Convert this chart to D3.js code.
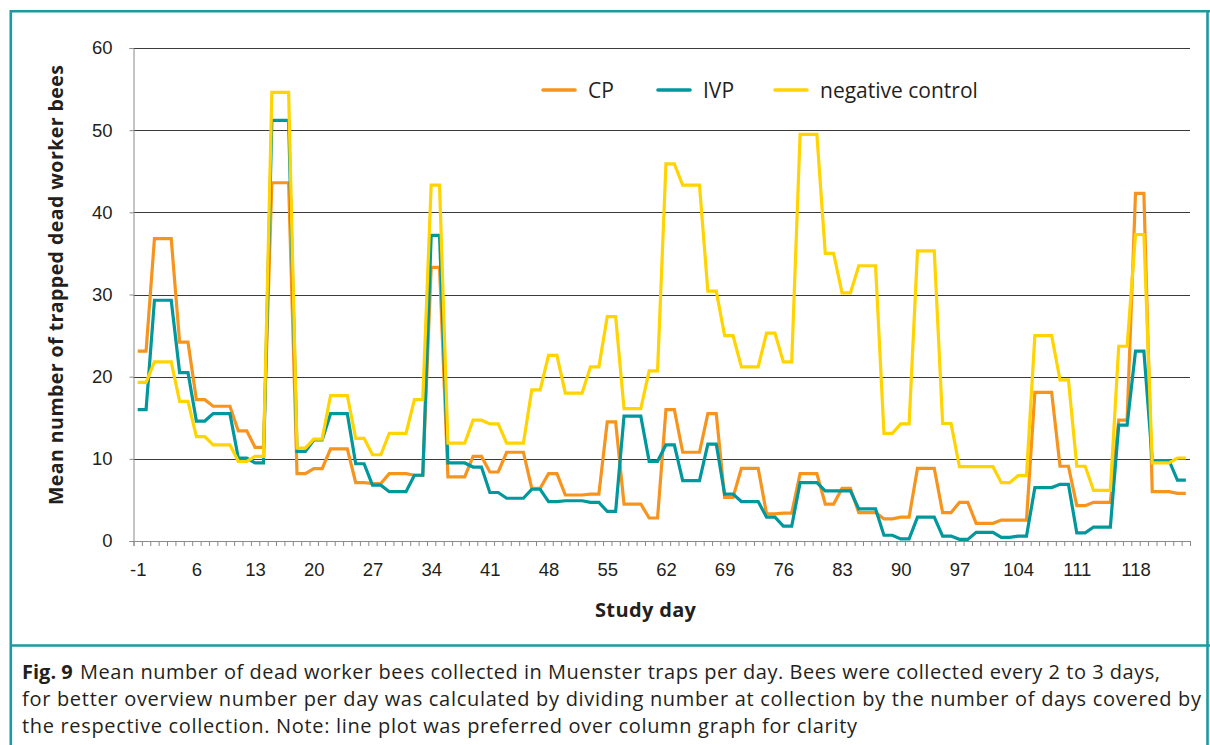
<!DOCTYPE html>
<html>
<head>
    <meta charset="utf-8" />
    <title>Fig. 9 dead worker bees</title>
    <script src="https://d3js.org/d3.v7.min.js"></script>
    <style>
    body { margin: 0; background: #fff; }
    svg { display: block; font-family: "Open Sans", "Noto Sans", sans-serif; }
    .tick text { fill: #231f20; }
    </style>
</head>
<body>
    <div id="chart"></div>
    <script>
        // study days run from -1 to 124, one point per day
        var firstDay = -1, lastDay = 124;
        var xTickDays = [-1, 6, 13, 20, 27, 34, 41, 48, 55, 62, 69, 76, 83, 90, 97, 104, 111, 118];
        var yTicks = [0, 10, 20, 30, 40, 50, 60];
        var seriesNames = ["CP", "IVP", "negative control"];

        // mean dead bees per day (collection value spread over the days it covers)
        var cp = [23.1, 23.1,
            36.8, 36.8, 36.8, 24.2, 24.2, 17.2, 17.2,
            16.4, 16.4, 16.4, 13.4, 13.4, 11.4, 11.4,
            43.6, 43.6, 43.6, 8.2, 8.2, 8.8, 8.8,
            11.2, 11.2, 11.2, 7.1, 7.1, 7.0, 7.0,
            8.2, 8.2, 8.2, 8.0, 8.0, 33.3, 33.3,
            7.8, 7.8, 7.8, 10.3, 10.3, 8.4, 8.4,
            10.8, 10.8, 10.8, 6.4, 6.4, 8.2, 8.2,
            5.6, 5.6, 5.6, 5.7, 5.7, 14.5, 14.5,
            4.5, 4.5, 4.5, 2.8, 2.8, 16.0, 16.0,
            10.8, 10.8, 10.8, 15.5, 15.5, 5.3, 5.3,
            8.85, 8.85, 8.85, 3.3, 3.3, 3.4, 3.4,
            8.2, 8.2, 8.2, 4.5, 4.5, 6.4, 6.4,
            3.45, 3.45, 3.45, 2.7, 2.7, 2.9, 2.9,
            8.85, 8.85, 8.85, 3.45, 3.45, 4.7, 4.7,
            2.15, 2.15, 2.15, 2.55, 2.55, 2.55, 2.55,
            18.1, 18.1, 18.1, 9.1, 9.1, 4.3, 4.3,
            4.7, 4.7, 4.7, 14.7, 14.7, 42.3, 42.3,
            6.0, 6.0, 6.0, 5.8, 5.8];

        var ivp = [16.0, 16.0,
            29.3, 29.3, 29.3, 20.5, 20.5, 14.6, 14.6,
            15.5, 15.5, 15.5, 10.1, 10.1, 9.5, 9.5,
            51.2, 51.2, 51.2, 10.9, 10.9, 12.3, 12.3,
            15.5, 15.5, 15.5, 9.4, 9.4, 6.8, 6.8,
            6.0, 6.0, 6.0, 8.0, 8.0, 37.2, 37.2,
            9.5, 9.5, 9.5, 9.0, 9.0, 5.9, 5.9,
            5.2, 5.2, 5.2, 6.3, 6.3, 4.8, 4.8,
            4.9, 4.9, 4.9, 4.7, 4.7, 3.6, 3.6,
            15.2, 15.2, 15.2, 9.7, 9.7, 11.7, 11.7,
            7.35, 7.35, 7.35, 11.8, 11.8, 5.7, 5.7,
            4.8, 4.8, 4.8, 2.9, 2.9, 1.8, 1.8,
            7.1, 7.1, 7.1, 6.1, 6.1, 6.1, 6.1,
            3.9, 3.9, 3.9, 0.7, 0.7, 0.25, 0.25,
            2.9, 2.9, 2.9, 0.6, 0.6, 0.2, 0.2,
            1.05, 1.05, 1.05, 0.45, 0.45, 0.6, 0.6,
            6.5, 6.5, 6.5, 6.9, 6.9, 1.0, 1.0,
            1.7, 1.7, 1.7, 14.1, 14.1, 23.1, 23.1,
            9.8, 9.8, 9.8, 7.4, 7.4];

        var negControl = [19.3, 19.3,
            21.8, 21.8, 21.8, 17.0, 17.0, 12.7, 12.7,
            11.7, 11.7, 11.7, 9.7, 9.7, 10.3, 10.3,
            54.6, 54.6, 54.6, 11.3, 11.3, 12.4, 12.4,
            17.7, 17.7, 17.7, 12.5, 12.5, 10.5, 10.5,
            13.1, 13.1, 13.1, 17.2, 17.2, 43.3, 43.3,
            11.9, 11.9, 11.9, 14.7, 14.7, 14.25, 14.25,
            11.9, 11.9, 11.9, 18.4, 18.4, 22.6, 22.6,
            18.0, 18.0, 18.0, 21.2, 21.2, 27.3, 27.3,
            16.1, 16.1, 16.1, 20.7, 20.7, 45.9, 45.9,
            43.3, 43.3, 43.3, 30.4, 30.4, 25.0, 25.0,
            21.2, 21.2, 21.2, 25.3, 25.3, 21.8, 21.8,
            49.5, 49.5, 49.5, 35.0, 35.0, 30.2, 30.2,
            33.5, 33.5, 33.5, 13.1, 13.1, 14.25, 14.25,
            35.3, 35.3, 35.3, 14.3, 14.3, 9.05, 9.05,
            9.05, 9.05, 9.05, 7.1, 7.1, 7.95, 7.95,
            25.0, 25.0, 25.0, 19.6, 19.6, 9.1, 9.1,
            6.15, 6.15, 6.15, 23.7, 23.7, 37.3, 37.3,
            9.5, 9.5, 9.5, 10.1, 10.1];

        var figLabel = "Fig. 9";
        var captionLines = [
            "Mean number of dead worker bees collected in Muenster traps per day. Bees were collected every 2 to 3 days,",
            "for better overview number per day was calculated by dividing number at collection by the number of days covered by",
            "the respective collection. Note: line plot was preferred over column graph for clarity"
        ];

        var colors = ["#f7941d", "#00979d", "#ffd400"];
        var frameColor = "#1b9aa1";
        var textColor = "#231f20";

        var days = d3.range(firstDay, lastDay + 1);
        var series = [cp, ivp, negControl].map(function(vals, i) {
            return { name: seriesNames[i], color: colors[i],
                     values: vals.map(function(v, j) { return { day: days[j], value: v }; }) };
        });

        var width = 1210, height = 745;
        var plot = { left: 133.5, right: 1190, top: 48, bottom: 541 };

        var svg = d3.select("#chart").append("svg")
            .attr("width", width)
            .attr("height", height);

        // categories sit between tick marks, like the spreadsheet axis
        var x = d3.scaleLinear()
            .domain([firstDay - 0.5, lastDay + 0.5])
            .range([plot.left, plot.right]);
        var y = d3.scaleLinear()
            .domain([0, 60])
            .range([plot.bottom, plot.top]);

        // frame round figure and caption
        var frame = svg.append("g")
            .attr("stroke", frameColor)
            .attr("stroke-width", 2.6)
            .attr("fill", "none");
        frame.append("line").attr("x1", 10).attr("x2", width).attr("y1", 11.3).attr("y2", 11.3);
        frame.append("line").attr("x1", 10.8).attr("x2", 10.8).attr("y1", 10).attr("y2", height);
        frame.append("line").attr("x1", 1207.5).attr("x2", 1207.5).attr("y1", 10).attr("y2", height);
        frame.append("line").attr("x1", 10).attr("x2", width).attr("y1", 645.5).attr("y2", 645.5);

        // horizontal gridlines
        svg.append("g")
            .selectAll("line")
            .data(yTicks.filter(function(d) { return d > 0; }))
            .enter().append("line")
            .attr("x1", plot.left)
            .attr("x2", plot.right)
            .attr("y1", function(d) { return Math.round(y(d)) + 0.5; })
            .attr("y2", function(d) { return Math.round(y(d)) + 0.5; })
            .attr("stroke", "#3a3a3a")
            .attr("stroke-width", 1);

        // y axis
        var yAxis = svg.append("g")
            .attr("transform", "translate(" + plot.left + ",0)")
            .call(d3.axisLeft(y).tickValues(yTicks).tickSize(4).tickPadding(17));
        yAxis.select(".domain").attr("stroke", "#8a8a8a");
        yAxis.selectAll(".tick line").attr("stroke", "#8a8a8a");
        yAxis.selectAll(".tick text").attr("font-size", 18.5).attr("font-family", null);

        // x axis: small marks every day, labels every week
        var xMarks = svg.append("g")
            .attr("transform", "translate(0," + plot.bottom + ")")
            .call(d3.axisBottom(x)
                .tickValues(d3.range(firstDay - 0.5, lastDay + 1, 1))
                .tickSize(5)
                .tickFormat(""));
        xMarks.select(".domain").attr("stroke", "#8a8a8a");
        xMarks.selectAll(".tick line").attr("stroke", "#8a8a8a");

        var xLabels = svg.append("g")
            .attr("transform", "translate(0," + plot.bottom + ")")
            .call(d3.axisBottom(x).tickValues(xTickDays).tickSize(0).tickPadding(22)
                .tickFormat(function(d) { return String(d); }));
        xLabels.select(".domain").remove();
        xLabels.selectAll(".tick text").attr("font-size", 18.5).attr("font-family", null);

        // axis titles
        svg.append("text")
            .attr("transform", "translate(63,285) rotate(-90)")
            .attr("text-anchor", "middle")
            .attr("font-size", 19.5)
            .attr("font-weight", "bold")
            .attr("fill", textColor)
            .attr("textLength", 440)
            .attr("lengthAdjust", "spacing")
            .text("Mean number of trapped dead worker bees");

        svg.append("text")
            .attr("x", 645.5)
            .attr("y", 617)
            .attr("text-anchor", "middle")
            .attr("font-size", 20)
            .attr("font-weight", "bold")
            .attr("fill", textColor)
            .attr("textLength", 101)
            .attr("lengthAdjust", "spacing")
            .text("Study day");

        // lines
        var line = d3.line()
            .x(function(d) { return x(d.day); })
            .y(function(d) { return y(d.value); });

        svg.append("g")
            .selectAll("path")
            .data(series)
            .enter().append("path")
            .attr("d", function(d) { return line(d.values); })
            .attr("fill", "none")
            .attr("stroke", function(d) { return d.color; })
            .attr("stroke-width", 3.2)
            .attr("stroke-linejoin", "miter");

        // legend
        var legendX = [543, 658, 775];
        var legend = svg.append("g")
            .selectAll("g")
            .data(series)
            .enter().append("g")
            .attr("transform", function(d, i) { return "translate(" + legendX[i] + ",90)"; });
        legend.append("line")
            .attr("x1", 0).attr("x2", 32)
            .attr("stroke", function(d) { return d.color; })
            .attr("stroke-width", 3.6)
            .attr("stroke-linecap", "round");
        legend.append("text")
            .attr("x", 45)
            .attr("y", 7.5)
            .attr("font-size", 21)
            .attr("fill", textColor)
            .text(function(d) { return d.name; });

        // caption, stretched a little to the widths of the printed lines
        var captionX = [80, 22, 22];
        var captionEnd = [1160, 1201, 857];
        svg.append("text")
            .attr("x", 22)
            .attr("y", 679)
            .attr("font-size", 20)
            .attr("font-weight", "bold")
            .attr("fill", textColor)
            .text(figLabel);
        svg.append("g")
            .selectAll("text")
            .data(captionLines)
            .enter().append("text")
            .attr("x", function(d, i) { return captionX[i]; })
            .attr("y", function(d, i) { return 679 + i * 26.8; })
            .attr("font-size", 20)
            .attr("fill", textColor)
            .attr("textLength", function(d, i) { return captionEnd[i] - captionX[i]; })
            .attr("lengthAdjust", "spacing")
            .text(function(d) { return d; });
    </script>
</body>
</html>
